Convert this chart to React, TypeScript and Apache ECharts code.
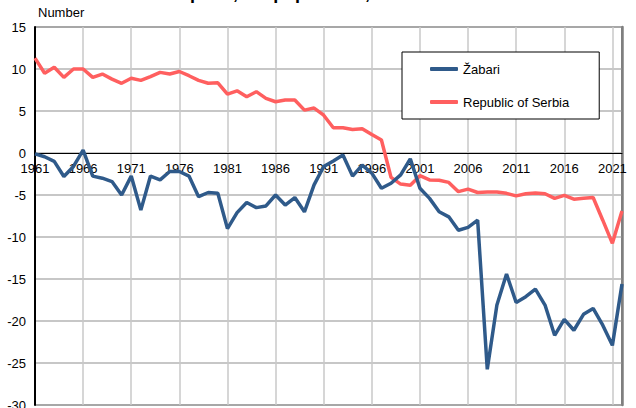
import React, { useEffect, useRef } from "react";
import * as echarts from "echarts";

const years = [
  "1961","1962","1963","1964","1965","1966","1967","1968","1969","1970",
  "1971","1972","1973","1974","1975","1976","1977","1978","1979","1980",
  "1981","1982","1983","1984","1985","1986","1987","1988","1989","1990",
  "1991","1992","1993","1994","1995","1996","1997","1998","1999","2000",
  "2001","2002","2003","2004","2005","2006","2007","2008","2009","2010",
  "2011","2012","2013","2014","2015","2016","2017","2018","2019","2020",
  "2021","2022",
];

const zabari = [
  -0.1, -0.45, -1.0, -2.8, -1.6, 0.35, -2.75, -3.0, -3.4, -5.0,
  -2.75, -6.8, -2.75, -3.2, -2.2, -2.2, -2.75, -5.2, -4.7, -4.8,
  -9.0, -7.1, -5.9, -6.5, -6.3, -5.0, -6.2, -5.3, -7.0, -3.8,
  -1.6, -0.95, -0.25, -2.75, -1.45, -2.4, -4.2, -3.6, -2.6, -0.7,
  -4.2, -5.4, -7.0, -7.6, -9.2, -8.85, -8.0, -25.75, -18.1, -14.4,
  -17.8, -17.1, -16.2, -18.1, -21.7, -19.8, -21.1, -19.2, -18.5, -20.5,
  -22.9, -15.6,
];

const serbia = [
  11.3, 9.5, 10.2, 9.0, 10.0, 10.0, 9.0, 9.4, 8.8, 8.3,
  8.9, 8.65, 9.1, 9.6, 9.4, 9.7, 9.2, 8.65, 8.3, 8.35,
  7.0, 7.4, 6.7, 7.3, 6.5, 6.1, 6.3, 6.3, 5.1, 5.35,
  4.5, 3.0, 3.0, 2.8, 2.9, 2.2, 1.55, -2.9, -3.7, -3.85,
  -2.7, -3.2, -3.25, -3.5, -4.6, -4.3, -4.7, -4.65, -4.65, -4.8,
  -5.1, -4.85, -4.75, -4.85, -5.4, -5.05, -5.5, -5.4, -5.3, -8.0,
  -10.75, -6.9,
];

const seriesNames = ["Žabari", "Republic of Serbia"];
const titleText = "Natural increase per 1,000 population, 1961–2022";
const yName = "Number";

const FONT = "Arial, 'Liberation Sans', sans-serif";
const Y_MIN = -30;
const Y_MAX = 15;
const GRID_TOP = 27;
const GRID_BOTTOM = 3;
const CHART_H = 408;

export default function App() {
  const ref = useRef<HTMLDivElement>(null);
  useEffect(() => {
    if (!ref.current) return;
    const chart = echarts.init(ref.current, undefined, { renderer: "svg" });
    const plotH = CHART_H - GRID_TOP - GRID_BOTTOM;
    const zeroOffset = -plotH * (0 - Y_MIN) / (Y_MAX - Y_MIN);
    chart.setOption({
      animation: false,
      backgroundColor: "#fff",
      textStyle: { fontFamily: FONT },
      grid: {
        left: 35, right: 14, top: GRID_TOP, bottom: GRID_BOTTOM,
        containLabel: false,
        outerBoundsMode: "none",
        show: true, borderColor: "#000", borderWidth: 1,
      },
      graphic: [
        {
          type: "text",
          left: 38, top: 6,
          style: { text: yName, font: `13px ${FONT}`, fill: "#000" },
        },
        {
          type: "text",
          x: 45, y: -16,
          style: { text: titleText, font: `bold 18px ${FONT}`, fill: "#000", verticalAlign: "top" },
        },
      ],
      legend: {
        orient: "vertical",
        left: 402, top: 52,
        backgroundColor: "#fff",
        borderColor: "#000", borderWidth: 1, borderRadius: 0,
        padding: [10, 30, 10, 28],
        itemWidth: 28, itemHeight: 4, itemGap: 19,
        icon: "roundRect",
        textStyle: { fontSize: 13, color: "#000", fontFamily: FONT, lineHeight: 14 },
        data: seriesNames,
      },
      xAxis: {
        type: "category",
        data: years,
        boundaryGap: false,
        position: "bottom",
        offset: zeroOffset,
        axisLine: { onZero: false, lineStyle: { color: "#000", width: 1 } },
        axisTick: { show: false },
        axisLabel: { interval: 4, color: "#000", fontSize: 13, margin: 9, fontFamily: FONT },
        splitLine: { show: true, interval: 4, lineStyle: { color: "#c8c8c8", width: 1.5 } },
      },
      yAxis: [
        {
          type: "value",
          min: Y_MIN, max: Y_MAX, interval: 5,
          axisLine: { show: true, onZero: false, lineStyle: { color: "#000", width: 2 } },
          axisTick: { show: false },
          axisLabel: { color: "#000", fontSize: 13, margin: 9, fontFamily: FONT },
          splitLine: { show: true, lineStyle: { color: "#b4b4b4", width: 1.5 } },
        },
        {
          type: "value",
          min: Y_MIN, max: Y_MAX, interval: 5,
          position: "right",
          axisLine: { show: true, onZero: false, lineStyle: { color: "#7f7f7f", width: 2.5 } },
          axisTick: { show: false },
          axisLabel: { show: false },
          splitLine: { show: false },
        },
      ],
      series: [
        {
          name: seriesNames[0],
          type: "line",
          data: zabari,
          symbol: "none",
          lineStyle: { color: "#2f5a8a", width: 3.5 },
          itemStyle: { color: "#2f5a8a" },
          z: 4,
        },
        {
          name: seriesNames[1],
          type: "line",
          data: serbia,
          symbol: "none",
          lineStyle: { color: "#ff5f5f", width: 3.5 },
          itemStyle: { color: "#ff5f5f" },
          z: 3,
        },
      ],
    });
    return () => chart.dispose();
  }, []);
  return <div ref={ref} style={{ width: 636, height: 408, position: "absolute", left: 0, top: 0 }} />;
}
